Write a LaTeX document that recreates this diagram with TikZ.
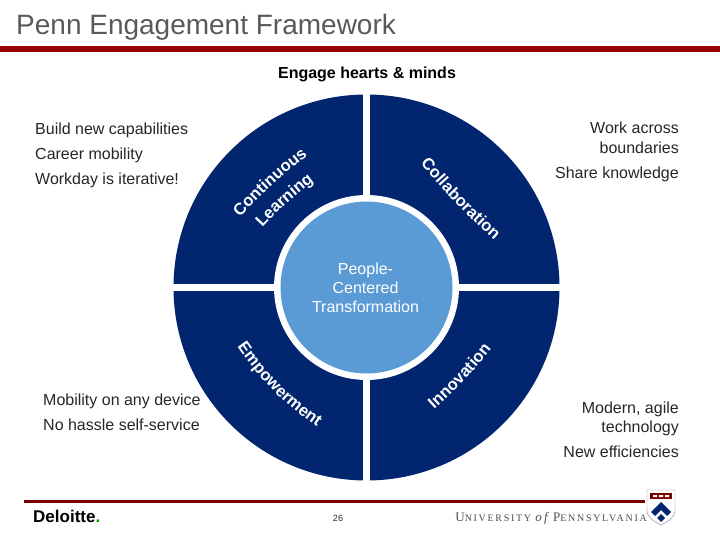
\documentclass[tikz,border=0pt]{standalone}
\usepackage{fontspec}
\setmainfont{Liberation Sans}
\newfontfamily\serifcaps[LetterSpace=17]{Liberation Serif}
\usetikzlibrary{decorations.text}
\definecolor{pennblue}{HTML}{01256E}
\definecolor{lightblue}{HTML}{5B9BD5}
\definecolor{pennred}{HTML}{990000}
\definecolor{titlegray}{HTML}{595959}

\begin{document}
\begin{tikzpicture}[
	x=1pt, y=-1pt,
	every node/.style={font=\fontsize{16}{19.5}\selectfont, text=black!85, inner sep=0pt},
	body/.style={anchor=base west},
	bodyright/.style={anchor=base east, align=right},
	wheeltext/.style={decorate, decoration={text along path, text align=center,
		text={|\fontsize{16.5}{17}\selectfont\bfseries\color{white}|#1}}}
	]
	\useasboundingbox (0,0) rectangle (720,540);
	
	%--- title ---
	\node[anchor=base west, font=\fontsize{28}{30}\selectfont, text=titlegray] (title) at (16,35) {Penn Engagement Framework};
	\fill[pennred] (0,46) rectangle (720,52);
	\node[anchor=base, font=\fontsize{16}{18}\selectfont\bfseries, text=black] (engage) at (367,78.5) {Engage hearts \& minds};
	
	%--- wheel ---
	\fill[pennblue] (366.5,287.5) circle (193);
	\fill[white] (363,90) rectangle (370,485);
	\fill[white] (170,284) rectangle (563,291);
	\fill[white] (366.5,287.5) circle (92.5);
	\fill[lightblue] (366.5,287.5) circle (86);
	\node[align=center, text=white, font=\fontsize{16}{19}\selectfont] (centre) at (365.5,287.5) {People-\\Centered\\Transformation};
	
	%--- wheel labels ---
	\path[wheeltext={Continuous}] (235,223) to[bend left=6] (314,151);
	\path[wheeltext={Learning}] (253,238) to[bend left=6] (325,173);
	\path[wheeltext={Collaboration}] (412,154) to[bend right=4] (504,249);
	\path[wheeltext={Empowerment}] (228,333) to[bend right=12] (331,436);
	\path[wheeltext={Innovation}] (420,422) to[bend right=6] (503,334);
	
	%--- left texts ---
	\node[body] (build) at (35,134.5) {Build new capabilities};
	\node[body] (career) at (35,159.5) {Career mobility};
	\node[body] (workday) at (35,184.5) {Workday is iterative!};
	\node[body] (mobility) at (43,405.5) {Mobility on any device};
	\node[body] (hassle) at (43,430.5) {No hassle self-service};
	
	%--- right texts ---
	\node[bodyright] (work) at (679,153.5) {Work across\\boundaries};
	\node[bodyright] (share) at (679,178.5) {Share knowledge};
	\node[bodyright] (modern) at (679,432.5) {Modern, agile\\technology};
	\node[bodyright] (newef) at (679,457.5) {New efficiencies};
	
	%--- footer ---
	\fill[pennred!80!black] (24,500) rectangle (645,503);
	\node[anchor=base west, font=\fontsize{17}{17}\selectfont\bfseries, text=black] (deloitte) at (33,522) {Deloitte\textcolor{green!60!black}{.}};
	\node[anchor=base, font=\fontsize{9}{9}\selectfont] (page) at (338,521) {26};
	\node[anchor=base east, font=\fontsize{13}{13}\serifcaps, text=black!70] (penn) at (647,521) {\fontsize{13}{14}\selectfont U\fontsize{10}{14}\selectfont NIVERSITY \fontsize{13}{14}\selectfont\itshape of \upshape P\fontsize{10}{14}\selectfont ENNSYLVANIA};
	
	%--- shield ---
	\fill[white, draw=black!50] (647,490) -- (675,490) -- (675,510) .. controls (675,518) and (667,522) .. (661,525) .. controls (655,522) and (647,518) .. (647,510) -- cycle;
	\fill[pennred!80!black] (650,493) rectangle (672,499);
	\fill[white] (653,495) rectangle (657,497) (659,495) rectangle (663,497) (665,495) rectangle (669,497);
	\fill[pennblue] (661,502) -- (671,512) -- (667,516) -- (661,510) -- (655,516) -- (651,512) -- cycle;
	\fill[pennblue] (661,514) -- (665,518) -- (661,522) -- (657,518) -- cycle;
\end{tikzpicture}
\end{document}
